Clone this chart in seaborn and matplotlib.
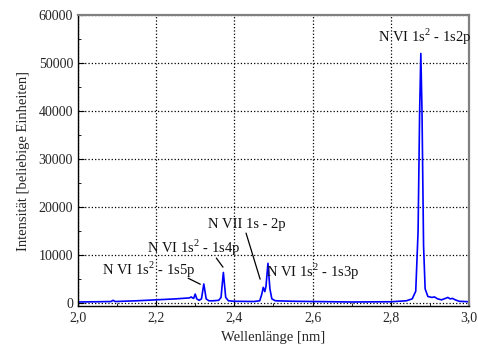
import matplotlib
matplotlib.use('Agg')
import matplotlib.pyplot as plt
import matplotlib.ticker as mticker
import pandas as pd
import seaborn as sns

# Spectrum (wavelength in nm, intensity in arb. units)
wavelength = [2.000, 2.050, 2.085, 2.090, 2.095, 2.150, 2.200, 2.250, 2.285, 2.290,
              2.293, 2.296, 2.300, 2.304, 2.310, 2.316, 2.322, 2.328, 2.335, 2.345,
              2.360, 2.366, 2.372, 2.378, 2.385, 2.400, 2.450, 2.465, 2.470, 2.474,
              2.478, 2.481, 2.486, 2.491, 2.496, 2.505, 2.550, 2.600, 2.700, 2.800,
              2.840, 2.855, 2.864, 2.870, 2.874, 2.877, 2.880, 2.884, 2.888, 2.895,
              2.905, 2.912, 2.920, 2.930, 2.940, 2.946, 2.952, 2.958, 2.965, 2.975,
              3.000]
intensity = [250, 300, 350, 600, 350, 500, 700, 900, 1100, 1300,
             1100, 1000, 1900, 900, 600, 900, 4000, 900, 500, 500,
             600, 1200, 6400, 1200, 500, 400, 350, 500, 1800, 3300,
             2400, 3500, 8300, 3000, 900, 500, 400, 350, 250, 300,
             500, 900, 2500, 15000, 40000, 52000, 40000, 12000, 3000, 1400,
             1200, 1300, 900, 700, 1000, 1200, 900, 1000, 700, 400,
             300]

# Line labels: text, text anchor (x, y), pointer line start/end or None
labels = [r'N VI 1s$^\mathrm{2}$ - 1s5p', r'N VI 1s$^\mathrm{2}$ - 1s4p', 'N VII 1s - 2p',
          r'N VI 1s$^\mathrm{2}$ - 1s3p', r'N VI 1s$^\mathrm{2}$ - 1s2p']
label_pos = [(2.061, 6900), (2.176, 11450), (2.333, 16450), (2.481, 6450), (2.768, 55400)]
pointers = [((2.282, 5200), (2.313, 3950)), ((2.354, 9400), (2.371, 7500)),
            ((2.430, 14600), (2.466, 5000)), None, None]

df = pd.DataFrame({'wl': wavelength, 'I': intensity})

sns.set_style('ticks')
plt.rcParams['font.family'] = ['Liberation Serif', 'DejaVu Serif']
plt.rcParams['mathtext.fontset'] = 'custom'
plt.rcParams['mathtext.rm'] = 'Liberation Serif'

fig = plt.figure(figsize=(4.78, 3.51), dpi=100)
ax = fig.add_axes([0.163, 0.128, 0.818, 0.829])
sns.lineplot(data=df, x='wl', y='I', ax=ax, color='#0000ff', linewidth=1.2,
             sort=False, estimator=None)

ax.set_xlim(2.0, 3.0)
ax.set_ylim(-600, 60000)
ax.xaxis.set_major_locator(mticker.MultipleLocator(0.2))
ax.xaxis.set_minor_locator(mticker.MultipleLocator(0.1))
ax.yaxis.set_major_locator(mticker.MultipleLocator(10000))
ax.yaxis.set_minor_locator(mticker.MultipleLocator(5000))
ax.xaxis.set_major_formatter(mticker.FuncFormatter(lambda v, p: f'{v:.1f}'.replace('.', ',')))
ax.tick_params(which='both', direction='in', labelsize=10, color='black')
ax.tick_params(which='major', length=4)
ax.tick_params(which='minor', length=2.5)
ax.grid(True, which='major', linestyle=':', color='black', linewidth=0.9)

for side in ['left', 'bottom']:
    ax.spines[side].set_color('black')
    ax.spines[side].set_linewidth(1.0)
for side in ['top', 'right']:
    ax.spines[side].set_color('#808080')
    ax.spines[side].set_linewidth(1.6)

ax.set_xlabel('Wellenlänge [nm]', fontsize=10.5, labelpad=5)
ax.set_ylabel('Intensität [beliebige Einheiten]', fontsize=10.5, labelpad=6)

for txt, (tx, ty), ptr in zip(labels, label_pos, pointers):
    ax.text(tx, ty, txt, fontsize=10.5, ha='left', va='center', color='#111111')
    if ptr is not None:
        (x0, y0), (x1, y1) = ptr
        ax.plot([x0, x1], [y0, y1], color='black', linewidth=0.9)

fig.savefig('out.png', dpi=100)
